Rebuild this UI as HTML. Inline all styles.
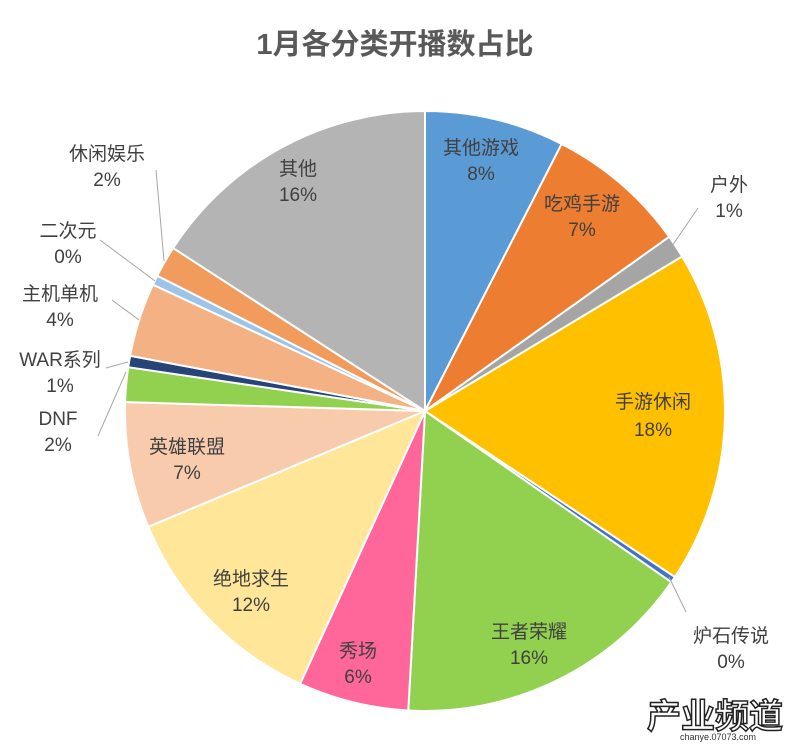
<!DOCTYPE html>
<html><head><meta charset="utf-8">
<style>
html,body{margin:0;padding:0;background:#fff;}
svg text{font-family:"Liberation Sans","Noto Sans CJK SC",sans-serif;}
</style></head>
<body>
<svg id="s" width="791" height="744" viewBox="0 0 791 744" xmlns="http://www.w3.org/2000/svg">
<rect width="791" height="744" fill="#fff"/>
<text x="395" y="54" text-anchor="middle" font-size="29" font-weight="bold" fill="#595959">1月各分类开播数占比</text>
<g id="pie"></g>
<g fill="#404040" font-size="19" text-anchor="middle">
<text x="481" y="154">其他游戏</text><text x="481" y="180">8%</text>
<text x="582" y="210">吃鸡手游</text><text x="582" y="236">7%</text>
<text x="729" y="191">户外</text><text x="729" y="217">1%</text>
<text x="653" y="408">手游休闲</text><text x="653" y="436">18%</text>
<text x="731" y="642">炉石传说</text><text x="731" y="668">0%</text>
<text x="529" y="638">王者荣耀</text><text x="529" y="664">16%</text>
<text x="358" y="657">秀场</text><text x="358" y="683">6%</text>
<text x="251" y="585">绝地求生</text><text x="251" y="611">12%</text>
<text x="187" y="453">英雄联盟</text><text x="187" y="479">7%</text>
<text x="58" y="425">DNF</text><text x="58" y="451">2%</text>
<text x="60" y="366">WAR系列</text><text x="60" y="392">1%</text>
<text x="60" y="300">主机单机</text><text x="60" y="326">4%</text>
<text x="68" y="237">二次元</text><text x="68" y="263">0%</text>
<text x="107" y="160">休闲娱乐</text><text x="107" y="186">2%</text>
<text x="298" y="175">其他</text><text x="298" y="201">16%</text>
</g>
<g stroke="#a6a6a6" stroke-width="1" fill="none">
<polyline points="672,246 698,208"/>
<polyline points="669,577 686,612"/>
<polyline points="126,372 98,436"/>
<polyline points="128,362 106,368"/>
<polyline points="139,320 112,300"/>
<polyline points="155,281 100,240"/>
<polyline points="164,261 156,170"/>
</g>
<text x="715" y="728" text-anchor="middle" font-size="34" font-weight="bold" fill="#fff" stroke="#222" stroke-width="1.5">产业频道</text>
<text x="718" y="740" text-anchor="middle" font-size="9" fill="#333">chanye.07073.com</text>
</svg>
<script>
var cx=425,cy=411,r=300;
var d=[[0,27.1,"#5b9bd5"],[27.1,54.5,"#ed7d31"],[54.5,59,"#a5a5a5"],[59,123.6,"#ffc000"],[123.6,124.8,"#4472c4"],[124.8,183.2,"#92d050"],[183.2,204.6,"#ff6699"],[204.6,247.3,"#ffe699"],[247.3,271.7,"#f8cbad"],[271.7,278.4,"#92d050"],[278.4,280.6,"#264478"],[280.6,294.9,"#f4b183"],[294.9,296.8,"#9dc3e6"],[296.8,302.9,"#f19b5d"],[302.9,360,"#b4b4b4"]];
function p(a){var t=a*Math.PI/180;return [cx+r*Math.sin(t),cy-r*Math.cos(t)];}
var g=document.getElementById("pie"),h="";
d.forEach(function(s){var a=p(s[0]),b=p(s[1]),l=(s[1]-s[0])>180?1:0;
h+='<path d="M'+cx+','+cy+' L'+a[0].toFixed(2)+','+a[1].toFixed(2)+' A'+r+','+r+' 0 '+l+' 1 '+b[0].toFixed(2)+','+b[1].toFixed(2)+' Z" fill="'+s[2]+'" stroke="#fff" stroke-width="2"/>';});
g.innerHTML=h;
</script>
</body></html>
